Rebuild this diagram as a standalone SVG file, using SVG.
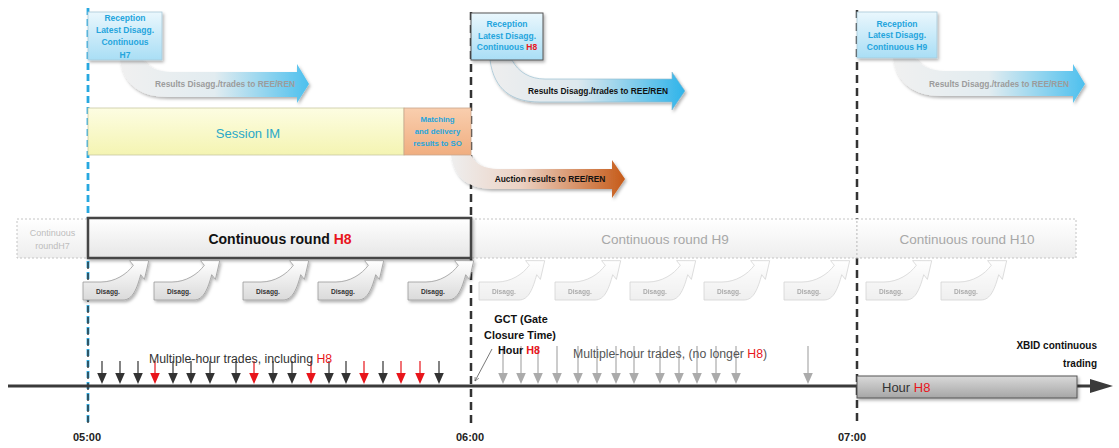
<svg xmlns="http://www.w3.org/2000/svg" xmlns:xlink="http://www.w3.org/1999/xlink" width="1119" height="448" viewBox="0 0 1119 448">
<style>
text{font-family:"Liberation Sans",Arial,sans-serif}
.bt{font-weight:bold;fill:#25a5dd;font-size:8.5px;text-anchor:middle}
.res{font-weight:bold;font-size:8.4px;text-anchor:middle}
.red{fill:#e8151b}
.dis{font-weight:bold;font-size:6.6px;fill:#333}
.faded{opacity:0.42}
.vdash{fill:none;stroke:#333;stroke-width:2.5;stroke-dasharray:8 5}
.round{stroke:#c4c4c4;stroke-width:1;stroke-dasharray:2 2;fill:url(#gRound)}
.rt{font-size:13.5px;fill:#a8a8a8;text-anchor:middle}
.tm{font-weight:bold;font-size:11px;fill:#222;text-anchor:middle}
.lbl{font-weight:bold;font-size:10.8px;fill:#111}
</style>
<defs>
<linearGradient id="gBlueBox" x1="0" y1="0" x2="0" y2="1"><stop offset="0" stop-color="#eaf7fd"/><stop offset="1" stop-color="#a9def5"/></linearGradient>
<linearGradient id="gRes" x1="0" y1="0" x2="1" y2="0"><stop offset="0" stop-color="#eeeeee"/><stop offset="0.45" stop-color="#dde8ee"/><stop offset="1" stop-color="#2fb4ea"/></linearGradient>
<linearGradient id="gResFaded" x1="0" y1="0" x2="1" y2="0"><stop offset="0" stop-color="#f0f0f0"/><stop offset="0.5" stop-color="#e2ecf0"/><stop offset="1" stop-color="#4dc0ee"/></linearGradient>
<linearGradient id="gAuc" x1="0" y1="0" x2="1" y2="0"><stop offset="0" stop-color="#eeeeee"/><stop offset="0.4" stop-color="#ecd2c4"/><stop offset="1" stop-color="#c65b19"/></linearGradient>
<linearGradient id="gYellow" x1="0" y1="0" x2="0" y2="1"><stop offset="0" stop-color="#fdfde2"/><stop offset="1" stop-color="#f4f4b2"/></linearGradient>
<linearGradient id="gOrange" x1="0" y1="0" x2="0" y2="1"><stop offset="0" stop-color="#f9ceae"/><stop offset="1" stop-color="#f0ae80"/></linearGradient>
<linearGradient id="gRound" x1="0" y1="0" x2="0" y2="1"><stop offset="0" stop-color="#ffffff"/><stop offset="1" stop-color="#eeeeee"/></linearGradient>
<linearGradient id="gRoundH8" x1="0" y1="0" x2="0" y2="1"><stop offset="0" stop-color="#ffffff"/><stop offset="1" stop-color="#e6e6e6"/></linearGradient>
<linearGradient id="gDis" x1="0" y1="0" x2="0" y2="1"><stop offset="0" stop-color="#ffffff"/><stop offset="1" stop-color="#dadada"/></linearGradient>
<linearGradient id="gHour" x1="0" y1="0" x2="0" y2="1"><stop offset="0" stop-color="#d9d9d9"/><stop offset="1" stop-color="#a6a6a6"/></linearGradient>
<filter id="sh" x="-10%" y="-20%" width="130%" height="150%"><feDropShadow dx="1.5" dy="2" stdDeviation="1.5" flood-color="#000" flood-opacity="0.3"/></filter>
<path id="disShape" d="M0,0 L18,0 C32,0 44,-8 50.3,-16.7 L46.6,-21.4 L65.7,-21.3 L61.4,-2.6 L57.7,-7.3 C54,6 50,18 40,18 L0,18 Z" fill="url(#gDis)" stroke="#9a9a9a" stroke-width="0.8"/>
<path id="trade" d="M-0.6,-25 h1.2 v12 h4.2 L0,-2 L-4.8,-13 h4.2 z"/>
<path id="tradeG" d="M-0.6,-40 h1.2 v27 h4.2 L0,-2 L-4.8,-13 h4.2 z"/>
<marker id="ptr" viewBox="0 0 8 8" refX="7" refY="4" markerWidth="6" markerHeight="6" orient="auto-start-reverse"><path d="M0,0.5 L7,4 L0,7.5" fill="none" stroke="#555" stroke-width="1"/></marker>
</defs>

<g id="time-guides">
<line x1="88" y1="8" x2="88" y2="426" stroke="#27a8e0" stroke-width="2.8" stroke-dasharray="7 4"/>
<line x1="88" y1="262" x2="88" y2="426" stroke="#333" stroke-width="1.4" stroke-dasharray="7 4"/>
<line class="vdash" x1="471" y1="12" x2="471" y2="426"/>
<line class="vdash" x1="857" y1="10" x2="857" y2="426"/>
</g>

<g id="results-h7">
<path d="M120,60 C124,86 142,97 168,97 L297,97 L297,103 L309,84 L297,64 L297,72 L172,72 C158,72 148,67 143,60 Z" fill="url(#gResFaded)" filter="url(#sh)"/>
<text class="res" x="225" y="87" fill="#9c9c9c">Results Disagg./trades to REE/REN</text>
</g>
<g id="reception-h7">
<rect x="88" y="12" width="74" height="48" fill="url(#gBlueBox)" stroke="#a9c9d8" stroke-width="0.8" filter="url(#sh)"/>
<text class="bt" x="125" y="20.5">Reception</text>
<text class="bt" x="125" y="32.5">Latest Disagg.</text>
<text class="bt" x="125" y="45">Continuous</text>
<text class="bt" x="125" y="57.5">H7</text>
</g>

<g id="results-h8">
<path d="M490,60 C494,90 512,102 540,102 L672,102 L672,110 L685,91 L672,72 L672,79 L545,79 C530,79 518,72 512,60 Z" fill="url(#gRes)" stroke="#8fb9cc" stroke-width="0.6" filter="url(#sh)"/>
<text class="res" x="598" y="94" fill="#111">Results Disagg./trades to REE/REN</text>
</g>
<g id="reception-h8">
<rect x="471" y="13" width="72" height="47" fill="url(#gBlueBox)" stroke="#555" stroke-width="1" filter="url(#sh)"/>
<text class="bt" x="507" y="27">Reception</text>
<text class="bt" x="507" y="38.5">Latest Disagg.</text>
<text class="bt" x="507" y="50">Continuous <tspan class="red">H8</tspan></text>
</g>

<g id="results-h9">
<path d="M893,58 C897,84 915,96 941,96 L1073,96 L1073,103 L1085,84 L1073,64 L1073,71 L945,71 C931,71 921,66 915,58 Z" fill="url(#gResFaded)" filter="url(#sh)"/>
<text class="res" x="999" y="86.5" fill="#9c9c9c">Results Disagg./trades to REE/REN</text>
</g>
<g id="reception-h9">
<rect x="857" y="12" width="80" height="46" fill="url(#gBlueBox)" stroke="#a9c9d8" stroke-width="0.8" filter="url(#sh)"/>
<text class="bt" x="897" y="26.5">Reception</text>
<text class="bt" x="897" y="38">Latest Disagg.</text>
<text class="bt" x="897" y="49.5">Continuous H9</text>
</g>

<g id="session-im">
<rect x="88" y="108" width="316" height="47" fill="url(#gYellow)" stroke="#c9c9a4" stroke-width="0.8"/>
<text x="248" y="138" font-size="13px" fill="#2aa8c8" text-anchor="middle">Session IM</text>
</g>
<g id="auction-results">
<path d="M451,155 C455,180 470,189 495,189 L612,189 L612,198 L625,179 L612,160 L612,169 L498,169 C485,169 475,164 471,155 Z" fill="url(#gAuc)" filter="url(#sh)"/>
<text class="res" x="550" y="182" fill="#111">Auction results to REE/REN</text>
</g>
<g id="matching-delivery">
<rect x="404" y="108" width="67" height="47" fill="url(#gOrange)" stroke="#c9a58c" stroke-width="0.8"/>
<text class="bt" x="437.5" y="122" style="font-size:7.8px">Matching</text>
<text class="bt" x="437.5" y="134" style="font-size:7.8px">and delivery</text>
<text class="bt" x="437.5" y="146" style="font-size:7.8px">results to SO</text>
</g>

<g id="round-h7">
<rect class="round" x="17" y="219" width="71" height="39"/>
<text x="52.5" y="236" font-size="9px" fill="#bdbdbd" text-anchor="middle">Continuous</text>
<text x="52.5" y="248.5" font-size="9px" fill="#bdbdbd" text-anchor="middle">roundH7</text>
</g>
<g id="round-h9">
<rect class="round" x="471" y="219" width="386" height="39"/>
<text class="rt" x="665" y="244">Continuous round H9</text>
</g>
<g id="round-h10">
<rect class="round" x="857" y="219" width="219" height="39"/>
<text class="rt" x="967" y="244">Continuous round H10</text>
</g>
<g id="round-h8">
<rect x="88" y="218" width="383" height="40" fill="url(#gRoundH8)" stroke="#444" stroke-width="2.5" filter="url(#sh)"/>
<text x="280" y="244" font-size="14px" font-weight="bold" fill="#111" text-anchor="middle">Continuous round <tspan class="red">H8</tspan></text>
</g>

<g id="disagg">
<g filter="url(#sh)">
<use xlink:href="#disShape" x="83" y="282"/>
<use xlink:href="#disShape" x="154" y="282"/>
<use xlink:href="#disShape" x="243" y="282"/>
<use xlink:href="#disShape" x="318" y="282"/>
<use xlink:href="#disShape" x="408" y="282"/>
</g>
<text class="dis" x="96" y="294">Disagg.</text>
<text class="dis" x="167" y="294">Disagg.</text>
<text class="dis" x="256" y="294">Disagg.</text>
<text class="dis" x="331" y="294">Disagg.</text>
<text class="dis" x="421" y="294">Disagg.</text>
<g class="faded">
<use xlink:href="#disShape" x="479" y="282"/>
<use xlink:href="#disShape" x="555" y="282"/>
<use xlink:href="#disShape" x="630" y="282"/>
<use xlink:href="#disShape" x="704" y="282"/>
<use xlink:href="#disShape" x="784" y="282"/>
<use xlink:href="#disShape" x="866" y="282"/>
<use xlink:href="#disShape" x="941" y="282"/>
<text class="dis" x="492" y="294">Disagg.</text>
<text class="dis" x="568" y="294">Disagg.</text>
<text class="dis" x="643" y="294">Disagg.</text>
<text class="dis" x="717" y="294">Disagg.</text>
<text class="dis" x="797" y="294">Disagg.</text>
<text class="dis" x="879" y="294">Disagg.</text>
<text class="dis" x="954" y="294">Disagg.</text>
</g>
</g>

<g id="timeline">
<line x1="8" y1="386" x2="1092" y2="386" stroke="#3a3a3a" stroke-width="3"/>
<polygon points="1090,379 1113,386 1090,393" fill="#3a3a3a"/>
</g>

<g id="trades-h8" fill="#333">
<use xlink:href="#trade" x="102" y="386"/>
<use xlink:href="#trade" x="120" y="386"/>
<use xlink:href="#trade" x="138" y="386"/>
<use xlink:href="#trade" x="155" y="386" fill="#e8151b"/>
<use xlink:href="#trade" x="173" y="386"/>
<use xlink:href="#trade" x="191" y="386"/>
<use xlink:href="#trade" x="210" y="386"/>
<use xlink:href="#trade" x="236" y="386"/>
<use xlink:href="#trade" x="254" y="386" fill="#e8151b"/>
<use xlink:href="#trade" x="273" y="386"/>
<use xlink:href="#trade" x="292" y="386"/>
<use xlink:href="#trade" x="311" y="386" fill="#e8151b"/>
<use xlink:href="#trade" x="329" y="386"/>
<use xlink:href="#trade" x="346" y="386"/>
<use xlink:href="#trade" x="364" y="386" fill="#e8151b"/>
<use xlink:href="#trade" x="383" y="386"/>
<use xlink:href="#trade" x="401" y="386" fill="#e8151b"/>
<use xlink:href="#trade" x="420" y="386" fill="#e8151b"/>
<use xlink:href="#trade" x="439" y="386"/>
</g>
<text x="149" y="363" font-size="12.3px" fill="#333">Multiple-hour trades, including <tspan class="red">H8</tspan></text>

<g id="trades-later" fill="#ababab">
<use xlink:href="#tradeG" x="503" y="386"/>
<use xlink:href="#tradeG" x="521" y="386"/>
<use xlink:href="#tradeG" x="538" y="386"/>
<use xlink:href="#tradeG" x="557" y="386"/>
<use xlink:href="#tradeG" x="578" y="386"/>
<use xlink:href="#tradeG" x="597" y="386"/>
<use xlink:href="#tradeG" x="616" y="386"/>
<use xlink:href="#tradeG" x="634" y="386"/>
<use xlink:href="#tradeG" x="660" y="386"/>
<use xlink:href="#tradeG" x="679" y="386"/>
<use xlink:href="#tradeG" x="697" y="386"/>
<use xlink:href="#tradeG" x="716" y="386"/>
<use xlink:href="#tradeG" x="736" y="386"/>
<use xlink:href="#tradeG" x="808" y="386"/>
</g>
<text x="573" y="358" font-size="12.3px" fill="#555">Multiple-hour trades, (no longer <tspan class="red">H8</tspan>)</text>

<g id="connectors">
<line x1="492" y1="349" x2="475" y2="381" stroke="#555" stroke-width="0.8" marker-end="url(#ptr)"/>
</g>

<g id="gct-label">
<text class="lbl" x="521" y="323" text-anchor="middle">GCT (Gate</text>
<text class="lbl" x="520" y="338.5" text-anchor="middle">Closure Time)</text>
<text class="lbl" x="519" y="354" text-anchor="middle">Hour <tspan class="red">H8</tspan></text>
</g>

<g id="hour-h8">
<rect x="857" y="376" width="220" height="22" fill="url(#gHour)" stroke="#555" stroke-width="1" filter="url(#sh)"/>
<text x="882" y="392" font-size="13px" fill="#333">Hour <tspan class="red">H8</tspan></text>
</g>

<g id="xbid-label">
<text class="lbl" x="1097" y="349" text-anchor="end" style="font-size:10px">XBID continuous</text>
<text class="lbl" x="1097" y="367" text-anchor="end" style="font-size:10px">trading</text>
</g>

<g id="time-labels">
<text class="tm" x="87" y="441">05:00</text>
<text class="tm" x="470" y="441">06:00</text>
<text class="tm" x="852" y="441">07:00</text>
</g>
</svg>
